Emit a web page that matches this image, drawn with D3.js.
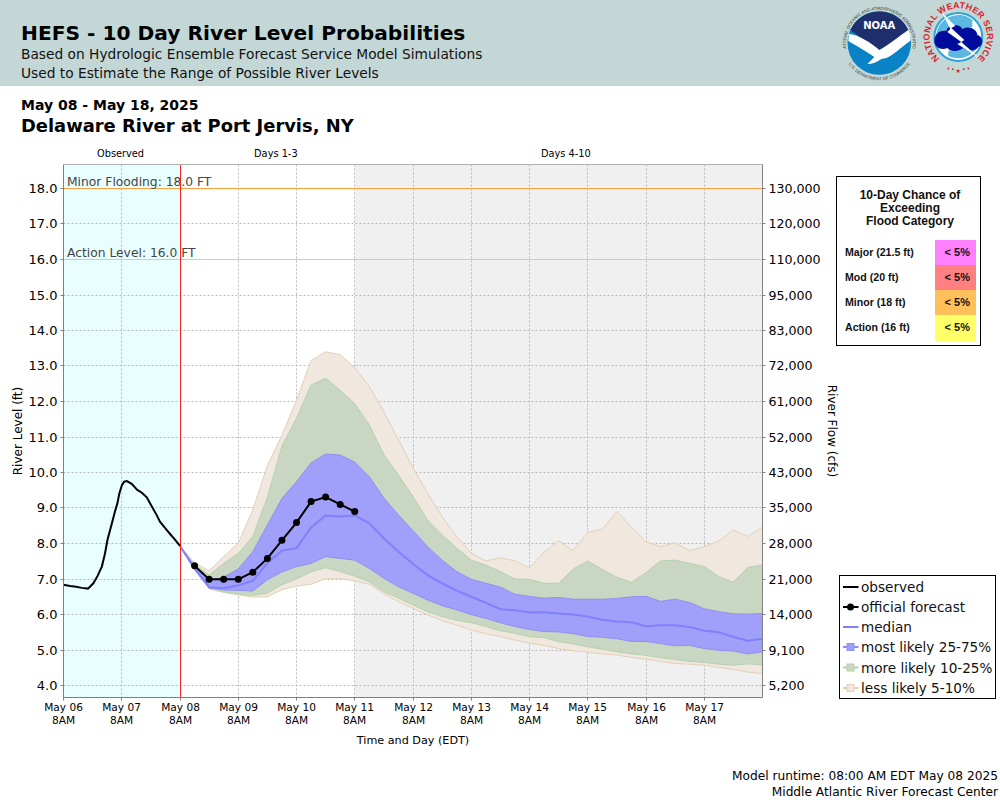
<!DOCTYPE html>
<html>
<head>
<meta charset="utf-8">
<script src="https://cdn.jsdelivr.net/npm/d3@7/dist/d3.min.js"></script>
<style>
    html, body { margin: 0; padding: 0; background: #fff; }
    svg { display: block; }
    text { font-family: "DejaVu Sans", sans-serif; }
</style>
</head>
<body>
<svg id="chart" width="1000" height="800"></svg>
<script>
// hours counted from May 06 8AM
const obsHours = [0, 2.7, 5.2, 7.6, 10.1, 12.3, 14, 15.8, 17.1, 18.1, 19.2, 20.3, 21.2, 22.2, 23, 24.1, 25, 26.1, 28.1, 30.4, 32.3, 34.3, 36.4, 38.4, 39.8, 41.9, 44, 46, 48];
const obsLevel = [6.84, 6.80, 6.78, 6.75, 6.73, 6.88, 7.08, 7.35, 7.72, 8.1, 8.38, 8.66, 8.9, 9.13, 9.41, 9.65, 9.74, 9.76, 9.68, 9.51, 9.43, 9.3, 9.04, 8.8, 8.61, 8.43, 8.26, 8.1, 7.93];

// forecast is 6 hourly from May 08 8AM to May 18 8AM
const fcstHours = d3.range(48, 289, 6);
const q95 = [7.93, 7.45, 7.23, 7.63, 8.01, 8.95, 10.2, 11.05, 12.04, 13.15, 13.4, 13.32, 12.95, 12.42, 11.71, 10.92, 10.13, 9.42, 8.76, 8.19, 7.73, 7.51, 7.6, 7.51, 7.31, 7.76, 8.08, 7.8, 8.32, 8.4, 8.9, 8.47, 8.05, 7.91, 8.02, 7.8, 7.91, 8.07, 8.38, 8.2, 8.46];
const q90 = [7.93, 7.4, 7.11, 7.44, 7.72, 8.2, 9.3, 10.75, 11.53, 12.46, 12.66, 12.32, 11.94, 11.34, 10.5, 9.93, 9.32, 8.66, 8.24, 7.87, 7.53, 7.39, 7.21, 7.0, 6.99, 6.88, 6.88, 7.28, 7.51, 7.27, 7.05, 6.91, 7.18, 7.51, 7.53, 7.44, 7.35, 7.07, 6.91, 7.33, 7.39];
const q75 = [7.93, 7.35, 6.95, 7.05, 7.28, 7.77, 8.52, 9.27, 9.74, 10.27, 10.52, 10.49, 10.29, 9.88, 9.28, 8.8, 8.36, 7.91, 7.53, 7.21, 6.99, 6.88, 6.77, 6.57, 6.51, 6.46, 6.48, 6.43, 6.43, 6.43, 6.45, 6.5, 6.51, 6.37, 6.43, 6.34, 6.16, 6.08, 6.02, 6.01, 6.03];
const q50 = [7.93, 7.3, 6.77, 6.74, 6.82, 6.95, 7.45, 7.8, 7.87, 8.45, 8.79, 8.76, 8.79, 8.57, 8.15, 7.77, 7.42, 7.11, 6.88, 6.67, 6.5, 6.33, 6.15, 6.12, 6.06, 6.06, 6.03, 6.0, 5.94, 5.85, 5.8, 5.78, 5.67, 5.7, 5.7, 5.65, 5.54, 5.5, 5.37, 5.26, 5.32];
const q25 = [7.93, 7.27, 6.75, 6.69, 6.68, 6.66, 6.98, 7.2, 7.35, 7.44, 7.63, 7.58, 7.53, 7.3, 7.02, 6.78, 6.6, 6.41, 6.25, 6.13, 6.0, 5.89, 5.77, 5.66, 5.58, 5.52, 5.51, 5.46, 5.38, 5.36, 5.32, 5.24, 5.24, 5.18, 5.12, 5.13, 5.04, 4.99, 4.97, 4.89, 4.95];
const q10 = [7.93, 7.27, 6.74, 6.64, 6.58, 6.54, 6.6, 6.84, 7.0, 7.2, 7.32, 7.21, 7.08, 6.92, 6.64, 6.46, 6.27, 6.08, 5.94, 5.84, 5.77, 5.66, 5.54, 5.47, 5.37, 5.35, 5.23, 5.17, 5.09, 5.02, 4.95, 4.89, 4.85, 4.78, 4.73, 4.68, 4.65, 4.6, 4.57, 4.61, 4.58];
const q05 = [7.93, 7.27, 6.72, 6.62, 6.55, 6.49, 6.5, 6.7, 6.8, 6.85, 7.01, 7.01, 6.95, 6.85, 6.58, 6.36, 6.17, 5.99, 5.83, 5.7, 5.56, 5.46, 5.38, 5.28, 5.19, 5.13, 5.04, 4.98, 4.94, 4.89, 4.86, 4.79, 4.74, 4.68, 4.62, 4.6, 4.57, 4.51, 4.45, 4.38, 4.33];

const officialHours = d3.range(54, 121, 6);
const official = [7.37, 6.99, 6.99, 6.99, 7.19, 7.58, 8.09, 8.59, 9.18, 9.31, 9.1, 8.9];

const levelTicks = d3.range(4, 19);
const flowLabels = ["5,200", "9,100", "14,000", "21,000", "28,000", "35,000", "43,000", "52,000", "61,000", "72,000", "83,000", "95,000", "110,000", "120,000", "130,000"];
const dayTicks = d3.range(0, 288, 24);
const dayLabels = ["May 06", "May 07", "May 08", "May 09", "May 10", "May 11", "May 12", "May 13", "May 14", "May 15", "May 16", "May 17"];
const periodNames = ["Observed", "Days 1-3", "Days 4-10"];
const periodCentres = [23.5, 87.5, 207];

const floodNames = ["Major (21.5 ft)", "Mod (20 ft)", "Minor (18 ft)", "Action (16 ft)"];
const floodChance = ["< 5%", "< 5%", "< 5%", "< 5%"];
const floodColors = ["#ff80ff", "#ff8080", "#ffc05a", "#ffff66"];

const svg = d3.select("#chart");

const plotLeft = 63.5, plotRight = 762.5, plotTop = 164.5, plotBottom = 697.5;

const x = d3.scaleLinear().domain([0, 288]).range([plotLeft, plotRight]);
// 18 ft sits at 188.5 and 4 ft at 685.5
const y = d3.scaleLinear().domain([4, 18]).range([685.5, 188.5]);

// keep the thin lines on a pixel
const snap = v => Math.floor(v) + 0.5;

// header

svg.append("rect")
    .attr("width", 1000)
    .attr("height", 86)
    .attr("fill", "#c3d8d6");

function label(parent, tx, ty, str, size, opts = {}) {
    return parent.append("text")
        .attr("x", tx)
        .attr("y", ty)
        .attr("font-size", size)
        .attr("font-weight", opts.weight || "normal")
        .style("font-family", opts.family || null)
        .attr("text-anchor", opts.anchor || "start")
        .attr("fill", opts.fill || "#000")
        .text(str);
}

label(svg, 21, 40, "HEFS - 10 Day River Level Probabilities", 20.2, { weight: "bold" });
label(svg, 21, 59, "Based on Hydrologic Ensemble Forecast Service Model Simulations", 13.75, { fill: "#111" });
label(svg, 21, 78, "Used to Estimate the Range of Possible River Levels", 13.75, { fill: "#111" });
label(svg, 21, 110, "May 08 - May 18, 2025", 14, { weight: "bold" });
label(svg, 21, 132, "Delaware River at Port Jervis, NY", 17.9, { weight: "bold" });

// logos

const noaa = svg.append("g").attr("transform", "translate(879.3,43)");
noaa.append("circle").attr("r", 31.8).attr("fill", "#0a82c6");
noaa.append("path")
    .attr("d", "M-26,-18 A31.8,31.8 0 0 1 26,-18 L29,-13 C20,-7 10,3 0,7 C-10,3 -20,-7 -29,-13Z")
    .attr("fill", "#1f2f6e");
noaa.append("path")
    .attr("d", "M-30.5,-9 C-22,-9 -8,0 0,7 C8,3 20,-7 29,-13 C31,-9 32,-5 31,-2 C22,4 14,12 7,15 L2,16 C-2,19 -7,21 -12,21 C-9,18 -7,16 -5,14 C-12,9 -24,2 -31,-2Z")
    .attr("fill", "#fff");
label(noaa, 0, -14, "NOAA", 10, { weight: "bold", anchor: "middle", fill: "#fff" });
noaa.append("path").attr("id", "noaaTop").attr("d", "M-33,6 A33.5,33.5 0 1 1 33,6").attr("fill", "none");
noaa.append("path").attr("id", "noaaBottom").attr("d", "M-33,17 A37,37 0 0 0 33,17").attr("fill", "none");
noaa.append("text").attr("font-size", 4.3).attr("fill", "#333").style("font-family", "Liberation Sans")
    .append("textPath").attr("href", "#noaaTop").attr("startOffset", "50%").attr("text-anchor", "middle")
    .text("NATIONAL OCEANIC AND ATMOSPHERIC ADMINISTRATION");
noaa.append("text").attr("font-size", 4.3).attr("fill", "#333").style("font-family", "Liberation Sans")
    .append("textPath").attr("href", "#noaaBottom").attr("startOffset", "50%").attr("text-anchor", "middle")
    .text("U.S. DEPARTMENT OF COMMERCE");

const nws = svg.append("g").attr("transform", "translate(958.3,37)");
nws.append("circle").attr("r", 25).attr("fill", "#fff");
nws.append("circle").attr("r", 24).attr("fill", "none").attr("stroke", "#27a3d6").attr("stroke-width", 2);
nws.append("path")
    .attr("d", "M-22,2 A22,22 0 0 1 14,-17 L14,-10 L-22,2Z M-10,19 A22,22 0 0 0 20,8 L-10,14Z")
    .attr("fill", "#5cb8e0");
nws.append("path")
    .attr("d", "M-24,4 C-24,-4 -17,-7 -12,-6 C-10,-14 2,-13 4,-8 C10,-12 19,-8 19,-2 C25,-1 26,9 20,10 C17,15 8,14 5,11 C0,15 -8,15 -11,11 C-17,14 -24,10 -24,4Z")
    .attr("fill", "#000c9c");
nws.append("path")
    .attr("d", "M-16,-24 L-3,-11 L-7,-9 L6,3 L3,5 L21,21 L-1,7 L3,5 L-11,-5 L-8,-8Z")
    .attr("fill", "#fff");
nws.append("path").attr("id", "nwsRing").attr("d", "M-20.5,20 A28.7,28.7 0 1 1 20.5,20").attr("fill", "none");
nws.append("text").attr("font-size", 8.8).attr("font-weight", "bold").attr("fill", "#d8232a")
    .style("font-family", "Liberation Sans")
    .attr("letter-spacing", 0.3)
    .append("textPath").attr("href", "#nwsRing").attr("startOffset", "50%").attr("text-anchor", "middle")
    .text("NATIONAL WEATHER SERVICE");
label(nws, 0, 35.5, "★", 6, { anchor: "middle", fill: "#d8232a" });
nws.selectAll("circle.dot")
    .data([-10, -5.5, 5.5, 10])
    .enter()
    .append("circle")
    .attr("class", "dot")
    .attr("cx", d => d)
    .attr("cy", d => 33 - Math.abs(d) * 0.15)
    .attr("r", 0.9)
    .attr("fill", "#d8232a");

// plot background

const plot = svg.append("g");

plot.append("rect")
    .attr("x", plotLeft).attr("y", plotTop)
    .attr("width", x(48) - plotLeft).attr("height", plotBottom - plotTop)
    .attr("fill", "#e9ffff");

plot.append("rect")
    .attr("x", x(120)).attr("y", plotTop)
    .attr("width", plotRight - x(120)).attr("height", plotBottom - plotTop)
    .attr("fill", "#f0f0f0");

// grid

plot.selectAll("line.hgrid")
    .data(levelTicks)
    .enter()
    .append("line")
    .attr("class", "hgrid")
    .attr("x1", plotLeft).attr("x2", plotRight)
    .attr("y1", d => snap(y(d))).attr("y2", d => snap(y(d)))
    .attr("stroke", "#bbbbbb")
    .attr("stroke-dasharray", "2,2");

plot.selectAll("line.vgrid")
    .data(dayTicks.slice(1))
    .enter()
    .append("line")
    .attr("class", "vgrid")
    .attr("x1", d => snap(x(d))).attr("x2", d => snap(x(d)))
    .attr("y1", plotTop).attr("y2", plotBottom)
    .attr("stroke", "#bbbbbb")
    .attr("stroke-dasharray", "2,2");

// bands

const bands = [
    { lo: q05, hi: q95, fill: "#f0e8de", stroke: "#e3cfb8" },
    { lo: q10, hi: q90, fill: "#c9d6c2", stroke: "#b5d2ad" },
    { lo: q25, hi: q75, fill: "#a0a0fa", stroke: "#8f8ff5" }
];

const area = d3.area()
    .x(d => x(d.h))
    .y0(d => y(d.lo))
    .y1(d => y(d.hi));

bands.forEach(b => {
    plot.append("path")
        .datum(fcstHours.map((h, i) => ({ h, lo: b.lo[i], hi: b.hi[i] })))
        .attr("d", area)
        .attr("fill", b.fill)
        .attr("stroke", b.stroke)
        .attr("stroke-width", 1);
});

const line = d3.line().x(d => x(d[0])).y(d => y(d[1]));

plot.append("path")
    .attr("d", line(d3.zip(fcstHours, q50)))
    .attr("fill", "none")
    .attr("stroke", "#8080ff")
    .attr("stroke-width", 2);

// flood levels

plot.append("line")
    .attr("x1", plotLeft).attr("x2", plotRight)
    .attr("y1", y(18)).attr("y2", y(18))
    .attr("stroke", "#ffa040");

plot.append("line")
    .attr("x1", plotLeft).attr("x2", plotRight)
    .attr("y1", y(16)).attr("y2", y(16))
    .attr("stroke", "#f5d040");

label(plot, 67, y(18) - 2.5, "Minor Flooding: 18.0 FT", 12.3, { fill: "#444" });
label(plot, 67, y(16) - 2.5, "Action Level: 16.0 FT", 12.3, { fill: "#444" });

// now line

plot.append("line")
    .attr("x1", snap(x(48))).attr("x2", snap(x(48)))
    .attr("y1", plotTop).attr("y2", plotBottom)
    .attr("stroke", "#ff2020")
    .attr("stroke-width", 1);

// observed and official

plot.append("path")
    .attr("d", line(d3.zip(obsHours, obsLevel)))
    .attr("fill", "none")
    .attr("stroke", "#000")
    .attr("stroke-width", 2);

plot.append("path")
    .attr("d", line(d3.zip(officialHours, official)))
    .attr("fill", "none")
    .attr("stroke", "#000")
    .attr("stroke-width", 2);

plot.selectAll("circle.official")
    .data(d3.zip(officialHours, official))
    .enter()
    .append("circle")
    .attr("class", "official")
    .attr("cx", d => x(d[0]))
    .attr("cy", d => y(d[1]))
    .attr("r", 3.5)
    .attr("fill", "#000");

// frame

plot.append("path")
    .attr("d", `M${plotLeft},${plotTop}H${plotRight}`)
    .attr("fill", "none")
    .attr("stroke", "#b0b0b0");

plot.append("path")
    .attr("d", `M${plotLeft},${plotTop}V${plotBottom}H${plotRight}V${plotTop}`)
    .attr("fill", "none")
    .attr("stroke", "#808080");

// axes

const axisLeft = d3.axisLeft(y)
    .tickValues(levelTicks)
    .tickSize(3)
    .tickPadding(3)
    .offset(0)
    .tickFormat(d3.format(".1f"));

const axisRight = d3.axisRight(y)
    .tickValues(levelTicks)
    .tickSize(3)
    .tickPadding(3)
    .offset(0)
    .tickFormat((d, i) => flowLabels[i]);

const axisBottom = d3.axisBottom(x)
    .tickValues(dayTicks)
    .tickSize(3)
    .tickPadding(3)
    .offset(0)
    .tickFormat((d, i) => dayLabels[i]);

const gl = svg.append("g").attr("transform", `translate(${plotLeft},0)`).call(axisLeft);
const gr = svg.append("g").attr("transform", `translate(${plotRight},0)`).call(axisRight);
const gb = svg.append("g").attr("transform", `translate(0,${plotBottom})`).call(axisBottom);

[gl, gr, gb].forEach(g => {
    g.select(".domain").remove();
    g.selectAll(".tick line").attr("stroke", "#808080");
    g.selectAll("text").style("font-family", "DejaVu Sans").attr("fill", "#000");
});

gl.selectAll(".tick").attr("transform", d => `translate(0,${snap(y(d))})`);
gr.selectAll(".tick").attr("transform", d => `translate(0,${snap(y(d))})`);
gb.selectAll(".tick").attr("transform", d => `translate(${snap(x(d))},0)`);

gl.selectAll("text").attr("font-size", 13);
gr.selectAll("text").attr("font-size", 12.6);
gb.selectAll("text").attr("font-size", 10.6);

gb.selectAll(".tick")
    .append("text")
    .attr("y", 26.5)
    .attr("text-anchor", "middle")
    .attr("font-size", 10.6)
    .attr("fill", "#000")
    .text("8AM");

// axis titles

label(svg, 0, 0, "River Level (ft)", 12, { anchor: "middle" })
    .attr("transform", "translate(22,431) rotate(-90)");
label(svg, 0, 0, "River Flow (cfs)", 12, { anchor: "middle" })
    .attr("transform", "translate(828,431) rotate(90)");
label(svg, 413, 744, "Time and Day (EDT)", 11.2, { anchor: "middle" });

periodNames.forEach((n, i) => {
    label(svg, x(periodCentres[i]), 157, n, 9.8, { anchor: "middle" });
});

// flood category box

const box = svg.append("g");

box.append("rect")
    .attr("x", 836.5).attr("y", 176.5)
    .attr("width", 144).attr("height", 169)
    .attr("fill", "#fff")
    .attr("stroke", "#000");

["10-Day Chance of", "Exceeding", "Flood Category"].forEach((t, i) => {
    label(box, 910, 199 + i * 13, t, 12, { weight: "bold", anchor: "middle", family: "Liberation Sans", fill: "#111" });
});

const rowY = d3.scaleBand().domain(floodNames).range([240, 340]);

box.selectAll("rect.swatch")
    .data(floodNames)
    .enter()
    .append("rect")
    .attr("class", "swatch")
    .attr("x", 935)
    .attr("y", d => rowY(d))
    .attr("width", 41)
    .attr("height", (d, i) => rowY.bandwidth() + (i === 3 ? 1 : 0))
    .attr("fill", (d, i) => floodColors[i]);

floodNames.forEach((n, i) => {
    const ty = rowY(n) + rowY.bandwidth() / 2 + 3;
    label(box, 845, ty, n, 10.6, { weight: "bold", family: "Liberation Sans", fill: "#111" });
    label(box, 970, ty, floodChance[i], 11, { weight: "bold", anchor: "end", family: "Liberation Sans", fill: "#111" });
});

// legend

const legendNames = ["observed", "official forecast", "median", "most likely 25-75%", "more likely 10-25%", "less likely 5-10%"];
const legendLines = ["#000", "#000", "#8080ff", "#8f8ff5", "#b5d2ad", "#e3cfb8"];
const legendBoxes = [null, null, null, "#a0a0fa", "#c9d6c2", "#f0e8de"];
const legendY = [587, 607, 627, 647, 667.5, 688];

const legend = svg.append("g");

legend.append("rect")
    .attr("x", 839.5).attr("y", 575.5)
    .attr("width", 156).attr("height", 123)
    .attr("fill", "#fff")
    .attr("stroke", "#000");

legendNames.forEach((n, i) => {
    legend.append("line")
        .attr("x1", 843).attr("x2", 858.5)
        .attr("y1", legendY[i]).attr("y2", legendY[i])
        .attr("stroke", legendLines[i])
        .attr("stroke-width", 2);
    if (i === 1) {
        legend.append("circle")
            .attr("cx", 850.5).attr("cy", legendY[i])
            .attr("r", 3.5)
            .attr("fill", "#000");
    }
    if (legendBoxes[i]) {
        legend.append("rect")
            .attr("x", 847).attr("y", legendY[i] - 3.5)
            .attr("width", 7).attr("height", 7)
            .attr("fill", legendBoxes[i])
            .attr("stroke", legendLines[i]);
    }
    label(legend, 861, legendY[i] + 5, n, 13.6, { fill: "#111" });
});

// footer

label(svg, 998, 780, "Model runtime: 08:00 AM EDT May 08 2025", 12.2, { anchor: "end" });
label(svg, 998, 796, "Middle Atlantic River Forecast Center", 12.2, { anchor: "end" });
</script>
</body>
</html>
